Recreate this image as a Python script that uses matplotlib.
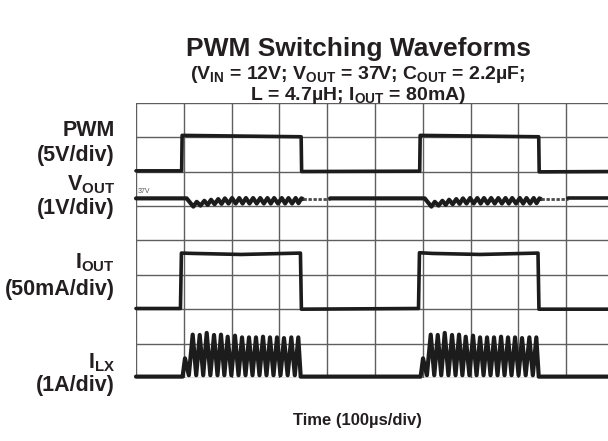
import matplotlib.pyplot as plt

plt.rcParams['font.family'] = ['Liberation Sans', 'DejaVu Sans']
plt.rcParams['mathtext.fontset'] = 'custom'
plt.rcParams['mathtext.bf'] = 'Liberation Sans:bold'
plt.rcParams['mathtext.rm'] = 'Liberation Sans:bold'
plt.rcParams['mathtext.default'] = 'bf'

# x in grid divisions (100us/div), y in divisions above the bottom grid line
edge_rise = [0.96, 5.94]

pwm_t = [0.00, 0.955, 0.965, 2.20, 3.455, 3.465, 5.935, 5.945, 7.20, 8.425, 8.435, 10.0]
pwm_v = [6.02, 6.02, 7.05, 7.03, 7.01, 6.00, 6.01, 7.05, 7.03, 7.01, 5.99, 6.00]

iout_t = [0.00, 0.93, 0.95, 1.20, 2.20, 3.44, 3.46, 5.91, 5.93, 6.20, 7.20, 8.41, 8.43, 10.0]
iout_v = [2.02, 2.02, 3.63, 3.62, 3.59, 3.63, 2.00, 2.02, 3.64, 3.62, 3.59, 3.63, 2.00, 2.00]

ilx_base = 0.04
ilx_valley = 0.08
ilx_peak_dt = [0.065, 0.226, 0.373, 0.519, 0.672, 0.818, 0.958, 1.111, 1.258,
               1.404, 1.550, 1.697, 1.843, 1.990, 2.136, 2.289, 2.435]
ilx_peak_v = [0.57, 1.26, 1.25, 1.31, 1.25, 1.26, 1.20, 1.23, 1.18,
              1.18, 1.18, 1.20, 1.18, 1.18, 1.16, 1.18, 1.18]

vout_base = 5.22
vout_drop_dt = 0.10
vout_top_dt = [0.31, 0.47, 0.61, 0.76, 0.90, 1.05, 1.20, 1.34, 1.49, 1.64,
               1.79, 1.93, 2.09, 2.23, 2.38, 2.50]
vout_top_v = [5.12, 5.15, 5.18, 5.20, 5.22, 5.23, 5.23, 5.23, 5.23, 5.23,
              5.23, 5.23, 5.23, 5.23, 5.23, 5.22]
vout_bot_dt0 = 0.24
vout_bot_v = [4.98, 5.01, 5.03, 5.05, 5.06, 5.07, 5.07, 5.07, 5.07, 5.07,
              5.07, 5.07, 5.07, 5.07, 5.07, 5.08]
vout_settle_dt = [2.53, 3.10]

trace_c = '#1c1c1c'
grid_c = '#5e5e5e'
text_c = '#231f20'

fig = plt.figure(figsize=(6.08, 4.41), dpi=100)
W, H = 608.0, 441.0
ax = fig.add_axes([136 / W, 1 - 378 / H, 478 / W, 275.3 / H])
ax.set_xlim(0, 10)
ax.set_ylim(0, 8)
ax.axis('off')

for i in range(11):
    ax.axvline(i, color=grid_c, lw=1.0, zorder=1)
for j in range(9):
    ax.axhline(j, color=grid_c, lw=1.0, zorder=1)

kw = dict(color=trace_c, lw=2.6, solid_joinstyle='round', solid_capstyle='round',
          zorder=3, clip_on=False)

ax.plot(pwm_t, pwm_v, **kw)
ax.plot(iout_t, iout_v, **kw)

# inductor current bursts
xs, ys = [0.0], [ilx_base]
for e in edge_rise:
    xs.append(e + ilx_peak_dt[0] - 0.05)
    ys.append(ilx_base)
    for k, (dt, v) in enumerate(zip(ilx_peak_dt, ilx_peak_v)):
        if k > 0:
            xs.append(e + (ilx_peak_dt[k - 1] + dt) / 2)
            ys.append(ilx_valley)
        xs.append(e + dt)
        ys.append(v)
    xs.append(e + ilx_peak_dt[-1] + 0.05)
    ys.append(ilx_base)
xs.append(10.0)
ys.append(ilx_base)
ax.plot(xs, ys, **dict(kw, lw=3.0))

# output voltage ripple
prev = 0.0
for e in edge_rise:
    xs, ys = [prev, e + vout_drop_dt], [vout_base, vout_base]
    for k, (dt, v) in enumerate(zip(vout_top_dt, vout_top_v)):
        if k == 0:
            xs.append(e + vout_bot_dt0)
        else:
            xs.append(e + (vout_top_dt[k - 1] + dt) / 2)
        ys.append(vout_bot_v[k])
        xs.append(e + dt)
        ys.append(v)
    xs.append(e + vout_settle_dt[0])
    ys.append(vout_base - 0.02)
    ax.plot(xs, ys, **dict(kw, lw=3.0))
    ax.plot([e + vout_settle_dt[0], e + vout_settle_dt[1]], [vout_base - 0.02] * 2,
            color='#4a4a4a', lw=2.0, ls=(0, (1.2, 0.6)), zorder=3)
    prev = e + vout_settle_dt[1]
ax.plot([prev, 10.0], [vout_base, vout_base], **kw)

ax.text(0.03, 5.33, '37V', fontsize=5, color='#555555', ha='left', va='bottom')


def fx(px):
    return px / W


def fy(py):
    return 1 - py / H


fig.text(fx(358), fy(56), 'PWM Switching Waveforms', fontsize=19, fontweight='bold',
         color=text_c, ha='center', va='baseline')
fig.text(fx(358), fy(79), r'($V_{IN}$ = 12V; $V_{OUT}$ = 37V; $C_{OUT}$ = 2.2µF;',
         fontsize=14, fontweight='bold', color=text_c, ha='center', va='baseline')
fig.text(fx(358), fy(99.5), r'L = 4.7µH; $I_{OUT}$ = 80mA)',
         fontsize=14, fontweight='bold', color=text_c, ha='center', va='baseline')

lab = dict(fontsize=15.5, fontweight='bold', color=text_c, ha='right')
fig.text(fx(115), fy(136), 'PWM', va='baseline', **lab)
fig.text(fx(115), fy(156), '(5V/div)', va='center', **lab)
fig.text(fx(115), fy(190), r'$V_{OUT}$', va='baseline', **lab)
fig.text(fx(115), fy(209), '(1V/div)', va='center', **lab)
fig.text(fx(115), fy(268), r'$I_{OUT}$', va='baseline', **lab)
fig.text(fx(115), fy(290), '(50mA/div)', va='center', **lab)
fig.text(fx(115), fy(368.5), r'$I_{LX}$', va='baseline', **lab)
fig.text(fx(115), fy(385), '(1A/div)', va='center', **lab)

fig.text(fx(357), fy(425), 'Time (100µs/div)', fontsize=12, fontweight='bold',
         color=text_c, ha='center', va='baseline')

fig.savefig('out.png', dpi=100)
